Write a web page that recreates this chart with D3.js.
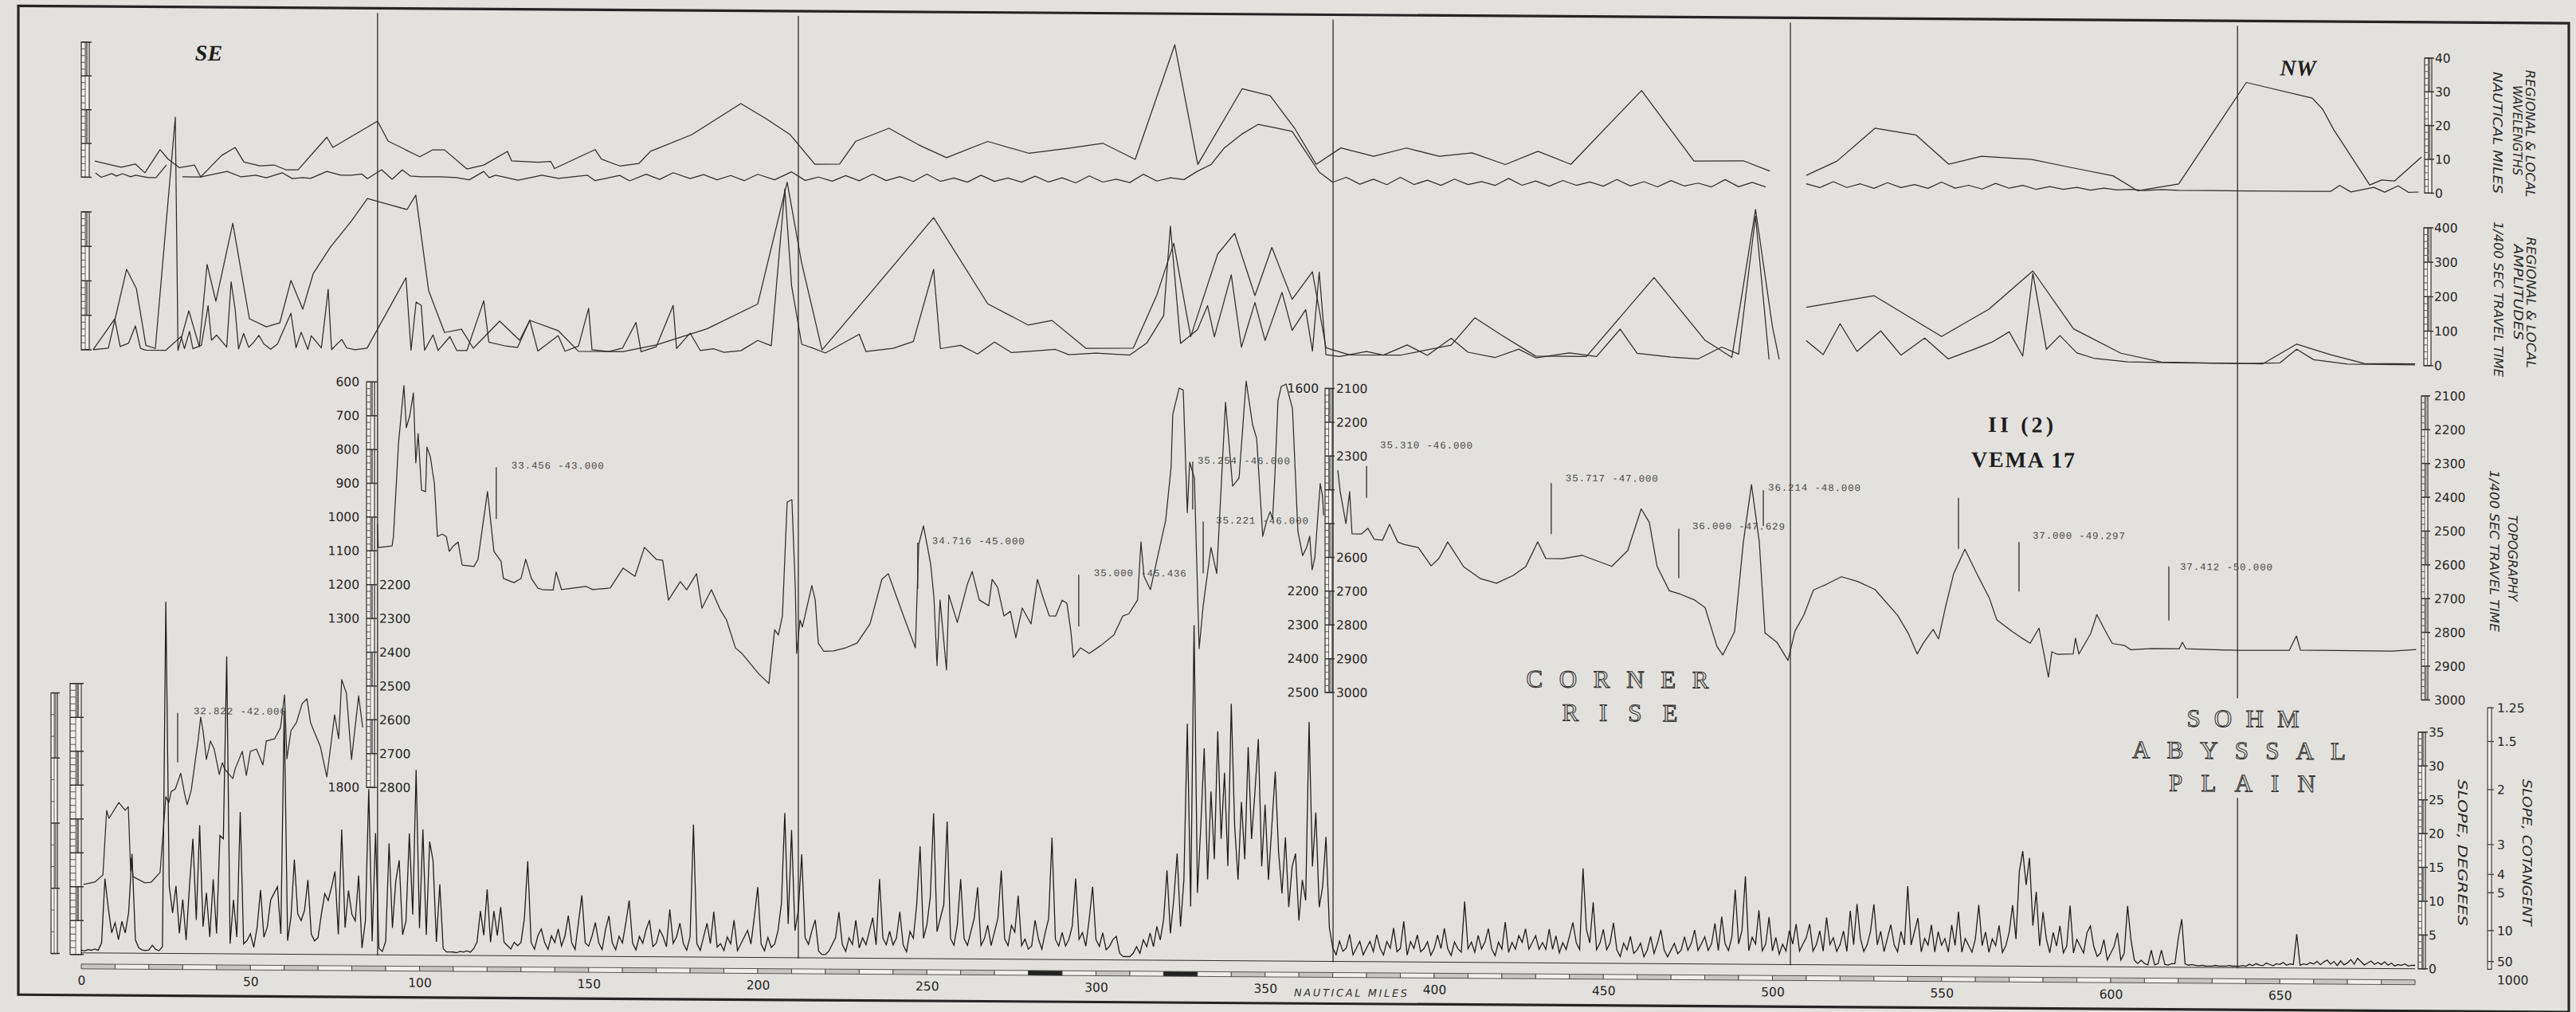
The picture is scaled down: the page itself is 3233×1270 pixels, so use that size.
<!DOCTYPE html>
<html><head><meta charset="utf-8">
<script src="https://cdn.jsdelivr.net/npm/d3@7"></script>
<style>html,body{margin:0;padding:0;background:#e3e1dd;}svg{display:block;}</style>
</head><body>
<svg id="c" width="3233" height="1270"></svg>
<script>
// ---------------- DATA ----------------
const xTickLabels = [0,50,100,150,200,250,300,350,400,450,500,550,600,650];
const dividerMiles = [87.6, 212, 370.1, 505.3, 637.5];

// Panel 1: regional & local wavelengths (nautical miles) [mile, value]
const wavRegional = [[4,4.8],[11.8,3],[16,4],[18.8,1.4],[23.3,8.3],[25.7,5.5],[29,3],[33.5,3.8],[35.3,0.3],[41.5,6.7],[45.5,9.1],[48.1,4.8],[52.8,3.7],[57,4],[60.5,2.6],[64.1,2.6],[72.6,12.3],[74.4,9.3],[87.6,17.2],[90.7,11.3],[100.1,6.7],[103.9,8.8],[107.4,8.8],[114,3.2],[119,4.4],[126,8.5],[127.2,5.7],[135,5.3],[138.8,5.6],[139.9,3.5],[151.9,9.2],[153.8,6.4],[159.2,4.4],[164.9,5.2],[168.3,8.8],[180.5,13.8],[195,23.1],[202.3,18.8],[209.6,14],[216.9,5.3],[224.2,5.4],[229,12.2],[238.8,16.1],[247.5,11.3],[255.8,7.5],[268,12.4],[280.1,9],[292.2,10.6],[302,12.1],[311.6,7.4],[323.3,41.4],[330.1,6],[343.2,28.5],[351.5,26.5],[358.8,16.8],[365.1,6.3],[372.4,11.2],[382.1,8.8],[391.8,11.3],[401.5,8.9],[411.2,10],[421,6.6],[430.7,10.6],[440.4,6.8],[461.3,28.8],[476.8,8],[491.4,8.2],[499.2,5.2],[503,null],[510,4],[519.1,8.3],[530.3,18.1],[542.4,16.2],[552.1,7.6],[561.8,10],[576.4,9.2],[588.6,6.8],[600.7,4.5],[608,0.1],[620.1,2.2],[640.1,32.4],[659.6,27.9],[662.7,24.6],[666,18.5],[676.6,2.3],[680.1,3.8],[683.9,3.5],[691.9,10.7]];
const wavLocal = [[4.2,1.3],[5.9,0],[9,1.1],[10.4,0.4],[12.2,1.1],[14.6,0.2],[16,0.7],[19.8,0],[22.1,0],[25.2,3.8],[26.5,null],[29.9,0.3],[35.3,0.3],[40,1.3],[43.1,2],[47.3,0.4],[51.6,0.9],[54.7,0.2],[59.4,1.7],[62.4,0],[65.5,0.3],[67.8,0.1],[72.6,2.2],[76.8,1.1],[79.9,1.1],[82.9,1.5],[84.6,0.1],[88.8,2.8],[91.9,0],[94.9,2.8],[97.3,1],[100.4,0.8],[106.2,0.8],[110.9,0.6],[114.7,0],[119,2.5],[120.6,0.7],[122.5,1.4],[129.1,0],[132.6,0.7],[136.2,1.5],[141.1,0.6],[149.6,1.6],[151.9,0],[159.2,1.6],[162.1,0],[167,2],[171,0.5],[175,2.5],[180,0.8],[184,2],[188,0.5],[192,1.8],[196,0.3],[200,2.2],[205,0.6],[210,3],[214,0.5],[218,1.5],[222,0.3],[226,2],[230,0.5],[234,2.5],[238,0.6],[242,1.8],[246,0.4],[250,2.6],[254,0.5],[258,1.5],[262,0.3],[266,2.4],[270,0.6],[274,1.6],[278,0.4],[282,2.2],[286,0.5],[290,1.8],[294,0.3],[298,2.4],[302,0.6],[306,1.5],[310,0.5],[314,3],[318,1],[322,2],[326,1.5],[330,4],[334,6],[338,11],[343,15],[348,18],[353,17],[358,16],[362,10],[366,4],[370,1],[374,2.5],[378,0.5],[382,2],[386,0.4],[390,2.6],[394,0.5],[398,1.8],[402,0.3],[406,2.2],[410,0.6],[414,1.5],[418,0.4],[422,2.5],[426,0.5],[430,1.8],[434,0.3],[438,2],[442,0.6],[446,1.6],[450,0.4],[454,2.4],[458,0.5],[462,1.8],[466,0.3],[470,2.2],[474,0.6],[478,1.5],[482,0.4],[486,2.6],[490,0.5],[494,1.8],[498,0.5],[503,null],[510,1.5],[514,0.4],[518,2.2],[522,0.5],[526,1.6],[530,0.3],[534,2],[538,0.6],[542,1.5],[546,0.4],[550,2.3],[554,0.5],[558,1.4],[562,0.3],[566,2],[570,0.6],[574,1.5],[578,0.3],[582,1.2],[586,0.4],[590,1],[594,0.2],[598,0.8],[602,0.3],[606,0.5],[610,0.2],[615,0.5],[620,0.3],[630,0.3],[640,0.3],[650,0.3],[660,0.3],[665,0.3],[667.7,2.1],[671,0.2],[677.8,1.6],[681,0.2],[685,2.1],[688,0.2],[691,0.3]];

// Panel 2: regional & local amplitudes (1/400 sec travel time)
const ampRegional = [[3.5,0],[8,5],[13.4,234],[16.3,178],[19.1,14],[21.9,5],[27.8,676],[28.6,0],[31.8,115],[34.9,11],[37.2,250],[39.8,143],[44.8,370],[49.7,93],[54.7,70],[58.7,82],[62,205],[65.5,122],[68.6,226],[73.7,303],[79.9,379],[84.6,444],[96.3,413],[98.9,455],[102.7,178],[107.4,57],[112.4,67],[115.9,12],[123.7,91],[129.6,36],[132.6,94],[141.1,64],[147,5],[160,5],[170,25],[185,73],[200,146],[208.7,500],[213,265],[219,14],[235,200],[252,400],[268,151],[280,90],[287,104],[297,24],[311,25],[318,180],[323,330],[328,60],[336,300],[341,360],[347,180],[352,320],[358,170],[364,250],[368,30],[375,10],[390,10],[405,40],[412,120],[420,70],[430,10],[445,10],[465,240],[480,60],[488,10],[495,440],[500,100],[502,5],[505,null],[510,157],[530,192],[550,75],[564,155],[577,267],[589,100],[603,30],[615,5],[630,3],[645,2],[655,60],[665,30],[675,5],[690,5]];
const ampLocal = [[3.5,0],[9.9,90],[11.5,10],[14,20],[16,70],[17.5,5],[19,0],[25,0],[29.5,40],[30.5,5],[32,55],[33,5],[35.5,15],[37.5,130],[38.5,30],[40,45],[43,10],[44.3,200],[45.5,120],[46.5,5],[48,50],[49.5,10],[51,25],[52.5,45],[54,20],[56,5],[58,20],[62,110],[63.5,10],[65,55],[67,5],[68,45],[71,10],[73,180],[74,5],[77,35],[78.5,10],[81,5],[84.5,10],[96,215],[97.5,5],[99,145],[100.5,135],[101.5,5],[104,50],[105.5,5],[109,45],[111,5],[114,5],[119,150],[120.5,30],[125,20],[129,15],[132.6,94],[135,5],[141,50],[143,5],[147,20],[150,130],[151,10],[156,5],[160,15],[164,90],[165.5,5],[170,20],[175,140],[176,15],[180,60],[183,10],[187,15],[190,5],[195,10],[200,40],[204,25],[208,480],[210,200],[213,30],[216,20],[220,5],[230,60],[232,10],[240,20],[246,40],[252,250],[254,20],[260,30],[265,5],[270,40],[275,10],[282,15],[288,20],[292,5],[300,10],[310,5],[315,40],[320,120],[322,380],[325,40],[330,80],[333,150],[335,60],[340,240],[343,30],[347,160],[350,50],[355,190],[358,80],[362,140],[364,20],[366,250],[368,10],[372,5],[380,20],[385,10],[392,40],[398,10],[405,60],[410,20],[418,5],[425,30],[430,5],[440,20],[448,10],[455,90],[460,20],[470,10],[478,5],[485,40],[490,20],[495,420],[499,5],[505,null],[510,60],[515,20],[520,110],[525,30],[532,90],[538,20],[545,70],[552,10],[560,40],[565,60],[570,90],[574,20],[577,260],[581,40],[585,80],[590,30],[595,15],[600,10],[605,5],[620,3],[640,3],[650,5],[655,45],[660,15],[670,3],[690,2]];

// Panel 3: topography (1/400 sec travel time), three sections with their own scale offsets
const topoA = [[0.7,2093],[4.0,2086],[6.4,2065],[7.5,1874],[8.2,1897],[11.1,1850],[13.0,1873],[13.9,1862],[14.6,2053],[14.8,2015],[15.3,2069],[18.8,2087],[20.7,2085],[23.3,2056],[25.0,1832],[25.9,1849],[26.6,1816],[27.8,1809],[29.4,1762],[30.6,1825],[31.3,1855],[32.5,1813],[34.6,1659],[35.3,1596],[36.0,1636],[37.0,1721],[38.2,1666],[39.3,1690],[40.8,1765],[41.7,1730],[42.4,1749],[44.8,1777],[45.5,1748],[47.6,1696],[48.8,1767],[50.0,1696],[51.8,1689],[53.7,1736],[54.7,1665],[57.2,1658],[58.9,1625],[60.1,1528],[60.8,1717],[62.0,1634],[63.6,1610],[65.3,1554],[66.7,1539],[67.8,1610],[70.7,1681],[72.6,1770],[74.9,1586],[76.1,1657],[77.0,1482],[78.4,1522],[79.9,1718],[82.0,1529],[83.2,1623]];
const topoB = [[87.6,2021],[87.8,2090],[91.9,2085],[92.3,2056],[93.8,1780],[95.4,1610],[96.1,1735],[97.1,1700],[98.2,1632],[98.9,1839],[99.6,1752],[100.6,1919],[101.8,1924],[102.2,1792],[103.2,1820],[104.4,1900],[105.3,2056],[106.7,2049],[107.9,2056],[108.8,2100],[110.0,2084],[111.4,2072],[112.6,2140],[116.1,2144],[117.3,2123],[120.1,1922],[122.0,2099],[124.1,2128],[124.8,2179],[127.9,2191],[130.0,2179],[131.4,2122],[133.1,2179],[135.0,2207],[136.6,2212],[139.5,2212],[140.4,2159],[142.0,2211],[149.3,2201],[151.2,2210],[156.4,2205],[160.2,2146],[163.7,2170],[166.5,2084],[170.1,2120],[171.9,2122],[173.6,2240],[177.1,2185],[179.0,2209],[181.9,2161],[183.5,2263],[186.3,2208],[188.9,2267],[190.8,2298],[193.4,2380],[195.3,2396],[200.2,2455],[203.3,2485],[205,2325],[206.1,2341],[207.3,2284],[208.7,1947],[210.1,1940],[211.1,2199],[211.5,2395],[212.5,2296],[213.2,2317],[216,2194],[217,2237],[217.9,2364],[219.5,2388],[222.4,2387],[225.9,2378],[229.4,2363],[233.2,2306],[236.7,2174],[238.6,2157],[240.3,2205],[243.1,2282],[246.6,2376],[247.6,2070],[249.0,2015],[251.1,2126],[252.1,2227],[253.0,2428],[253.9,2234],[255.8,2441],[256.5,2219],[259,2300],[262,2186],[263.4,2149],[265.5,2233],[268.3,2250],[269.3,2172],[270.9,2195],[272.8,2280],[274.7,2266],[276.3,2344],[278.2,2256],[280.8,2303],[282.7,2171],[284.6,2232],[286.2,2279],[288.1,2279],[290,2232],[291.4,2241],[292.6,2326],[293.3,2401],[295.4,2373],[298,2389],[301.5,2365],[305.3,2334],[307.9,2278],[309.7,2271],[312.3,2230],[313.3,2058],[314.2,2159],[316.1,2199],[317.8,2121],[320.6,1994],[322.2,1838],[322.7,1680],[324.6,1602],[325.8,1608],[327,1970],[327.7,1821],[329.1,1868],[330.5,2373],[331.7,2245],[334,2073],[335.7,2150],[338.3,1643],[340.4,1891],[342.3,1867],[344.4,1580],[346.3,1709],[347.5,1749],[349.3,2039],[350.5,1992],[351.5,1966],[352.2,1989],[352.9,1859],[353.8,1638],[354.8,1595],[356.2,1588],[358.1,1661],[359.7,2024],[361.1,2095],[362.3,2071],[363.2,2038],[363.9,2137],[364.7,2102],[366.3,1882],[367,1920],[367.3,1976]];
const topoC = [[371.5,2342],[372.2,2405],[373.9,2500],[375.0,2405],[375.7,2530],[378.5,2530],[380.4,2513],[382.3,2546],[384.7,2548],[386.8,2501],[389.2,2553],[391.0,2560],[395.3,2569],[399.1,2623],[401.4,2601],[404.0,2552],[408.7,2625],[413.7,2660],[418.4,2673],[423.3,2650],[427.1,2623],[430.6,2550],[433.0,2599],[437.9,2599],[443.8,2589],[452.5,2621],[457.2,2574],[461.2,2450],[463.6,2490],[465.9,2620],[469.5,2692],[472.8,2702],[476.8,2718],[480.1,2741],[483.6,2856],[485.3,2881],[488.8,2812],[491.4,2546],[493.8,2376],[496.1,2544],[497.8,2815],[501.3,2842],[504.6,2896],[506.7,2808],[509.3,2761],[512.1,2687],[515.7,2671],[520.4,2647],[525.3,2661],[530.3,2684],[537,2760],[540.2,2814],[542.8,2874],[544.6,2842],[547.5,2801],[549.1,2829],[551.2,2733],[553.6,2635],[556.9,2563],[560.4,2635],[564.2,2709],[566.3,2771],[570.8,2805],[573.6,2824],[576.2,2840],[578.8,2795],[581.6,2940],[582.6,2865],[584.2,2872],[588.9,2871],[589.6,2824],[590.6,2871],[594.1,2810],[595.9,2754],[599.1,2815],[600.5,2839],[604.2,2845],[605.9,2857],[612.2,2853],[620.3,2853],[621.2,2834],[622.2,2853],[637.5,2857],[652.8,2856],[654.9,2813],[656.1,2855],[683.2,2856],[690.3,2851]];

// Panel 4: slope in degrees, one reading per nautical mile starting at mile 0
const slopeStartMile = 0, slopeStepMile = 1;
const slopeDeg = [0.4,0.3,0.5,0.4,0.6,0.4,1.5,11,6.6,3, 4.5,2,4.7,3,6,14.7,2,0.8,0.5,0.4, 0.5,1.2,0.6,0.4,1,52,10,6,10,3, 8,2,10,17,5,19,4,9,2.5,11, 3,17.5,17,44,1.5,8,2.5,21,1.5,2, 3,1,4,9.5,2.5,4,8,9,10,3, 36,2,5.5,14,6,5,6.5,11,3,2, 2.5,6,9,8,10,12.3,3,18.5,4,9.5, 6,5,11.7,1,5,24.5,2,18,1,0.5, 2,16.5,4,11,14,3,5,18,6,27.4, 4,18.6,3,16.8,14,2,10.5,1,0.5,0.5, 0.5,0.4,0.6,0.5,0.7,0.5,1,2,6.6,3, 9.8,2,6.6,3,7.2,2,1.5,1,2,1.5, 2,5.5,14,2,1,3,4,2,1,3, 2,4,1.5,3,6,2,1,5,9,2, 1.5,3,5,2,1,4,6,2,1,3, 2,5,8.3,2,1,3,2,4,5.4,1.5, 2,4,3,1.5,7,2,3,5,2,1, 3,19.6,2,1,3,5,2,6.7,1.5,2, 1,3,2,5.5,1,2,3,4,2,6, 10.4,2,1,3,1.5,2,4,8,21.4,5, 18.9,4,7,15.3,3,2,4,5.6,1,0.5, 0.5,1,2,3,6.8,2,1,3,2,5.6, 1.5,3,2,4,6,2,11.7,3,2,4, 2,3,6.9,2,1,4,3,8,16.6,3, 5,9,21.5,4,6,8,20.3,3,2,5, 11.8,3,2,4,6,10.6,2,3,5,2, 4,6,13.1,3,2,5,4,9.4,2,3, 1.5,2,5.8,3,1.5,4,6,18,3,2, 4,2,3,5,12,3,4,2,6,10.8, 3,2,4,1.5,2,3,3.5,1,0.5,0.5, 0.5,1,2,1,3,2,4,2,5,3, 6,13.3,4,9,15.8,5,12,35,8,49.6, 10,20,31.4,12,25,15,33.9,18,27.8,14, 38,20,12,23.5,15,31.6,18,25,32.8,14, 23.1,12,20,28,16,10,18.3,8,14,15.9, 6,12,9,35.4,14,22,8,11,18.4,5, 2,1,3,1.5,2,4,1,2,3,1, 2,3,1.5,4,2,1,3,2,5,1.5, 2,6,1,3,2,4,1.5,2,3,1, 2,4,2,5,2,1,3,2,1.5,9, 2,3,1.5,4,2,3,5,2,1,3, 2,6,1.5,3,2,4,3,5,2,3, 4,2,3,2,5,2,4,1.5,3,2, 4,6,3,2,14,5,3,9,2,3, 5,2,3,6,2,1,3,2,4,1.5, 2,3,1,2,4,1.5,3,5,2,1, 2,3,1.5,2,4,2,3,5,2,3, 4,2,3,6,2,7,3,2,4,11, 3,5,13,2,4,3,8,2,3,7, 2,4,1.5,3,2,5,3,6,2,3, 4,6,2,3,5,2,7,3,4,2, 3,5,2,8,3,9,4,2,3,5, 9,3,5,2,4,6,3,2,5,3, 11.7,3,5,7,2,4,3,6,2,5, 3,4,2,6,3,8,2,4,3,2, 4,9,3,5,2,4,3,6,2,3, 5,9,4,14,17,12,16,6,11,3, 8,4,2,5,3,6,2,3,9,2, 4,3,2,5,6,3,1.5,2,4,1, 2,3,5,1,2,9,4,1,0.5,1, 0.5,0.3,2.5,0.3,0.5,2.5,0.4,0.3,0.5,0.5, 4.3,7.1,0.5,0.3,0.4,0.3,0.2,0.3,0.2,0.2, 0.2,0.3,0.2,0.2,0.2,0.3,0.2,0.2,0.2,0.3, 0.2,0.5,0.3,0.6,0.4,0.3,0.7,0.5,0.3,0.6, 0.5,0.8,0.4,0.6,0.5,5,0.4,0.6,0.5,0.8, 0.6,1,0.5,0.9,1.2,0.6,1,0.4,1.1,0.5, 0.8,1.3,0.6,1.5,1,0.5,0.8,1.1,0.6,0.9, 0.6,1,0.5,0.8,0.4,0.6,0.5,0.7,0.4,0.5, 0.5];

// Axis tick labels
const wavTicks = [0,10,20,30,40];
const ampTicks = [0,100,200,300,400];
const topoALeftTicks = [600,700,800,900,1000,1100,1200,1300,1800];
const topoBRightTicks = [2200,2300,2400,2500,2600,2700,2800];
const topoBMidTicks = [1600,2200,2300,2400,2500];
const topoCMidTicks = [2100,2200,2300,2600,2700,2800,2900,3000];
const topoCRightTicks = [2100,2200,2300,2400,2500,2600,2700,2800,2900,3000];
const slopeTicks = [0,5,10,15,20,25,30,35];
const cotTicks = [1.25,1.5,2,3,4,5,10,50];

// Position annotations along the track
const annotText = ["32.822 -42.000","33.456 -43.000","34.716 -45.000","35.000 -45.436","35.254 -46.000","35.221 -46.000","35.310 -46.000","35.717 -47.000","36.000 -47.629","36.214 -48.000","37.000 -49.297","37.412 -50.000",""];
const annotMile = [28.5,122.7,247.3,294.9,328.6,331.7,380,434.6,472.3,497.3,572.9,617.2,555];

// ---------------- LAYOUT ----------------
const W=3233,H=1270;
const L = {
  x0:102, pxPerMile:4.245,
  p1:[232.5,63], p2:[449,276], topoTop:487, topoPx:0.424, p4:[1206,909],
  annotTextY:[901,590,681,720,578,653,557,597,656,607,665,703,0],
  annotTick:[[904,966],[593,658],[684,742],[723,788],[580,640],[655,720],[584,624],[604,668],[660,722],[611,656],[674,736],[703,771],[619,683]],
  annotDx:[20,19,18,19,6,16,17,18,17,6,17,14,0]
};
const ink='#2e2e2e', paper='#e3e1dd';

const svg=d3.select('#c');
svg.append('rect').attr('width',W).attr('height',H).attr('fill',paper);
const g=svg.append('g').attr('transform','translate(0,-10.89) skewY(0.39)');

const x=d3.scaleLinear().domain([0,650]).range([L.x0, L.x0+L.pxPerMile*650]);
const y1=d3.scaleLinear().domain([0,40]).range(L.p1);
const y2=d3.scaleLinear().domain([0,400]).range(L.p2);
const yA=d3.scaleLinear().domain([600,1800]).range([L.topoTop, L.topoTop+1200*L.topoPx]);
const yB=d3.scaleLinear().domain([1600,2800]).range([L.topoTop, L.topoTop+1200*L.topoPx]);
const yC=d3.scaleLinear().domain([2100,3000]).range([L.topoTop, L.topoTop+900*L.topoPx]);
const y4=d3.scaleLinear().domain([0,35]).range(L.p4);

// frame
g.append('rect').attr('x',23).attr('y',18).attr('width',3201).attr('height',1241)
 .attr('fill','none').attr('stroke','#252525').attr('stroke-width',3.2);

// divider lines
dividerMiles.forEach((m,i)=>{
  if(i===4){
    g.append('line').attr('x1',x(m)).attr('x2',x(m)).attr('y1',24).attr('y2',868).attr('stroke',ink).attr('stroke-width',1.3);
    g.append('line').attr('x1',x(m)).attr('x2',x(m)).attr('y1',993).attr('y2',1207).attr('stroke',ink).attr('stroke-width',1.3);
  } else {
    g.append('line').attr('x1',x(m)).attr('x2',x(m)).attr('y1',24).attr('y2',1207).attr('stroke',ink).attr('stroke-width',1.3);
  }
});

// scale bars
function drawBar(x0,w,yTop,yBot,nDiv,majorEvery){
  const b=g.append('g');
  b.append('rect').attr('x',x0).attr('y',yTop).attr('width',w).attr('height',yBot-yTop)
   .attr('fill','#f2f0ec').attr('stroke','#333').attr('stroke-width',1.2);
  const h=(yBot-yTop)/nDiv;
  for(let i=0;i<nDiv;i++){
    if(Math.floor(i/majorEvery)%2===0)
      b.append('rect').attr('x',x0+w*0.55).attr('y',yTop+i*h).attr('width',w*0.25).attr('height',h).attr('fill','#777');
  }
  b.append('line').attr('x1',x0+w*0.5).attr('x2',x0+w*0.5).attr('y1',yTop).attr('y2',yBot).attr('stroke','#444').attr('stroke-width',0.8);
  for(let i=0;i<=nDiv;i++){
    const yy=yTop+i*h, maj=(i%majorEvery===0);
    b.append('line').attr('x1',x0).attr('x2',maj?x0+w+3:x0+w*0.5).attr('y1',yy).attr('y2',yy)
     .attr('stroke','#333').attr('stroke-width',maj?1.5:0.8);
  }
}
drawBar(102,10,y1(40),y1(0),20,5);
drawBar(3043,9,y1(40),y1(0),20,5);
drawBar(102,10,y2(400),y2(0),20,5);
drawBar(3042,9,y2(400),y2(0),20,5);
drawBar(460,10,yA(600),yA(1800),60,5);
drawBar(1663,9,yC(2100),yC(3000),45,5);
drawBar(3039,8,yC(2100),yC(3000),45,5);
drawBar(3035,9,y4(35),y4(0),35,5);
drawBar(88,14,868,1208,40,5);
drawBar(64,8,880,1207,12,3);
// cotangent bar
const cotY=c=>y4(Math.atan(1/c)*180/Math.PI);
g.append('rect').attr('x',3122).attr('y',cotY(1.25)).attr('width',5).attr('height',y4(0)-cotY(1.25))
 .attr('fill','#f2f0ec').attr('stroke','#333').attr('stroke-width',1.1);
cotTicks.forEach(c=>g.append('line').attr('x1',3122).attr('x2',3130).attr('y1',cotY(c)).attr('y2',cotY(c)).attr('stroke','#333').attr('stroke-width',1.2));

// axes labels
const fmt=d3.format('d');
function styleAxis(ga){ga.select('.domain').remove();ga.attr('font-family','DejaVu Sans').attr('font-size',15.5);ga.selectAll('text').attr('fill','#262626');return ga;}
function axisR(scale,vals,xp,pad,f){const a=d3.axisRight(scale).tickValues(vals).tickSize(0).tickPadding(pad).tickFormat(f||fmt);return styleAxis(g.append('g').attr('transform',`translate(${xp},0)`).call(a));}
function axisL(scale,vals,xp,pad){const a=d3.axisLeft(scale).tickValues(vals).tickSize(0).tickPadding(pad).tickFormat(fmt);return styleAxis(g.append('g').attr('transform',`translate(${xp},0)`).call(a));}
axisR(y1,wavTicks,3052,4);
axisR(y2,ampTicks,3051,4);
axisL(yA,topoALeftTicks,462,11);
axisR(yB,topoBRightTicks,470,6);
axisL(yB,topoBMidTicks,1663,8);
axisR(yC,topoCMidTicks,1672,5);
axisR(yC,topoCRightTicks,3047,8);
axisR(y4,slopeTicks,3044,4);
const cotG=g.append('g').attr('font-family','DejaVu Sans').attr('font-size',15.5).attr('fill','#262626');
cotTicks.forEach(c=>cotG.append('text').attr('x',3134).attr('y',cotY(c)).attr('dy','0.35em').text(c));
cotG.append('text').attr('x',3134).attr('y',cotY(1000)+14).attr('dy','0.35em').text('1000');

// x axis strip and labels
const strip=g.append('g');
d3.range(0,690,10).forEach((m,i)=>{
  const dark=(m===280||m===320);
  strip.append('rect').attr('x',x(m)).attr('y',1220).attr('width',x(m+10)-x(m)).attr('height',6)
   .attr('fill',dark?'#222':(i%2?'#f1efeb':'#c9c6c1')).attr('stroke','#444').attr('stroke-width',0.9);
});
const xa=d3.axisBottom(x).tickValues(xTickLabels).tickSize(0).tickPadding(0).tickFormat(fmt);
const xg=styleAxis(g.append('g').attr('transform','translate(0,1235)').call(xa));
g.append('text').attr('x',1695).attr('y',1250).attr('text-anchor','middle').attr('font-family','DejaVu Sans')
 .attr('font-style','italic').attr('font-size',13).attr('fill','#333').attr('textLength',142).text('NAUTICAL MILES');

// data lines
const lineStyle=s=>s.attr('fill','none').attr('stroke',ink).attr('stroke-width',1.25).attr('stroke-linejoin','round');
const def=d=>d[1]!=null;
lineStyle(g.append('path').attr('d',d3.line().defined(def).x(d=>x(d[0])).y(d=>y1(d[1]))(wavRegional)));
lineStyle(g.append('path').attr('d',d3.line().defined(def).x(d=>x(d[0])).y(d=>y1(d[1]))(wavLocal)));
lineStyle(g.append('path').attr('d',d3.line().defined(def).x(d=>x(d[0])).y(d=>y2(d[1]))(ampRegional)));
lineStyle(g.append('path').attr('d',d3.line().defined(def).x(d=>x(d[0])).y(d=>y2(d[1]))(ampLocal)));
lineStyle(g.append('path').attr('d',d3.line().x(d=>x(d[0])).y(d=>yA(d[1]))(topoA)));
lineStyle(g.append('path').attr('d',d3.line().x(d=>x(d[0])).y(d=>yB(d[1]))(topoB)));
lineStyle(g.append('path').attr('d',d3.line().x(d=>x(d[0])).y(d=>yC(d[1]))(topoC)));
g.append('path').attr('d',d3.line().x((d,i)=>x(slopeStartMile+i*slopeStepMile)).y(d=>y4(d))(slopeDeg))
 .attr('fill','none').attr('stroke','#1e1e1e').attr('stroke-width',1.3).attr('stroke-linejoin','miter');
// baseline of slope
g.append('line').attr('x1',x(0)).attr('x2',x(690)).attr('y1',y4(0)).attr('y2',y4(0)).attr('stroke',ink).attr('stroke-width',1);

// annotations
annotText.forEach((t,i)=>{
  const xm=x(annotMile[i]);
  g.append('line').attr('x1',xm).attr('x2',xm).attr('y1',L.annotTick[i][0]).attr('y2',L.annotTick[i][1]).attr('stroke',ink).attr('stroke-width',1.3);
  if(t) g.append('text').attr('x',xm+L.annotDx[i]).attr('y',L.annotTextY[i]).attr('dy','0.35em')
    .attr('font-family','Liberation Mono').attr('font-size',12.5).attr('fill','#4a4a4a').attr('textLength',116).text(t);
});

// titles
const serif='Liberation Serif';
g.append('text').attr('x',262).attr('y',85).attr('text-anchor','middle').attr('font-family',serif).attr('font-weight','bold').attr('font-style','italic').attr('font-size',28).attr('fill','#1e1e1e').text('SE');
g.append('text').attr('x',2884).attr('y',86).attr('text-anchor','middle').attr('font-family',serif).attr('font-weight','bold').attr('font-style','italic').attr('font-size',28).attr('fill','#1e1e1e').text('NW');
g.append('text').attr('x',2536).attr('y',536).attr('text-anchor','middle').attr('font-family',serif).attr('font-weight','bold').attr('font-size',28).attr('fill','#1e1e1e').attr('textLength',82).text('II (2)');
g.append('text').attr('x',2539).attr('y',580).attr('text-anchor','middle').attr('font-family',serif).attr('font-weight','bold').attr('font-size',28).attr('fill','#1e1e1e').attr('textLength',130).text('VEMA 17');
[['CORNER',2030,860,229],['RISE',2033,902,145],['SOHM',2815,904,141],['ABYSSAL',2810,944,268],['PLAIN',2814,985,184]].forEach(([t,cx,by,len])=>{
  g.append('text').attr('x',cx).attr('y',by).attr('text-anchor','middle').attr('font-family',serif).attr('font-size',31)
   .attr('fill',paper).attr('stroke','#333').attr('stroke-width',1.1).attr('textLength',len).attr('lengthAdjust','spacing').text(t);
});

// rotated side labels
[['REGIONAL & LOCAL',3175,157,160],['WAVELENGTHS',3159,153,113],['NAUTICAL  MILES',3134,156,153],
 ['REGIONAL & LOCAL',3176,369,165],['AMPLITUDES',3160,356,120],['1/400 SEC TRAVEL TIME',3135,365,195],
 ['TOPOGRAPHY',3153,690,108],['1/400 SEC TRAVEL TIME',3130,681,203],
 ['SLOPE, DEGREES',3090,1060,184],['SLOPE, COTANGENT',3171,1059,184]].forEach(([t,cx,cy,len])=>{
  g.append('text').attr('transform',`translate(${cx},${cy}) rotate(90)`).attr('text-anchor','middle').attr('dominant-baseline','central')
   .attr('font-family','DejaVu Sans').attr('font-style','italic').attr('font-size',16).attr('fill','#2a2a2a')
   .attr('textLength',len).attr('lengthAdjust','spacingAndGlyphs').text(t);
});
</script>
</body></html>
